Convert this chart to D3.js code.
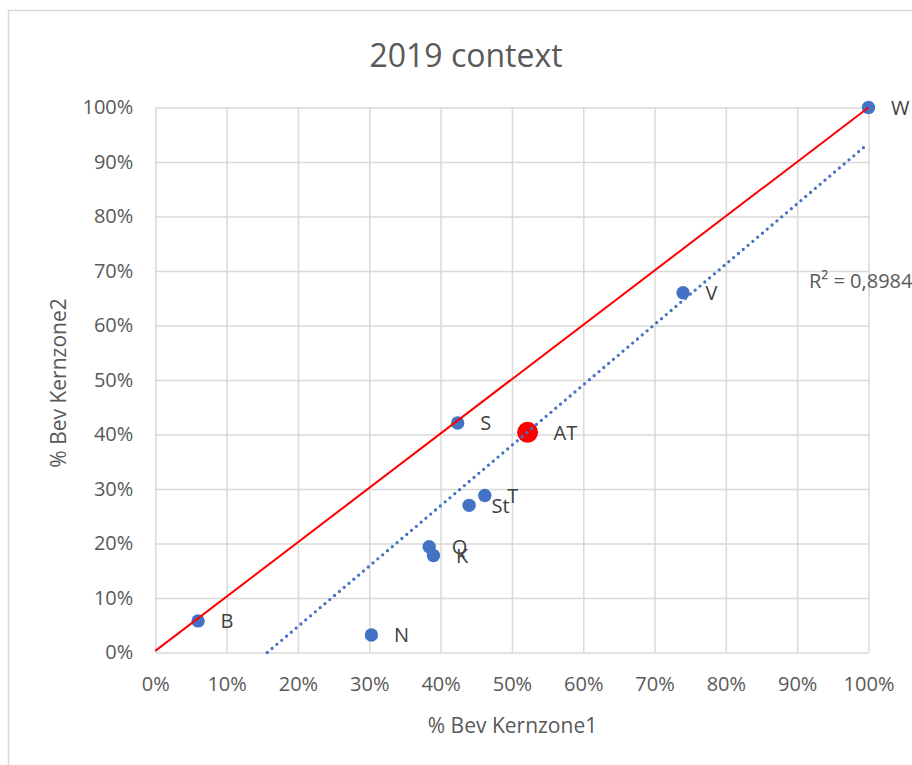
<!DOCTYPE html>
<html>
<head>
<meta charset="utf-8">
<script src="https://cdn.jsdelivr.net/npm/d3@7"></script>
<style>
  html, body { margin: 0; padding: 0; background: #fff; }
  svg { display: block; }
  text { font-family: "Open Sans", "Noto Sans", sans-serif; }
</style>
</head>
<body>
<svg id="chart" width="912" height="765"></svg>
<script>
// ---- data ----
const labels  = ["W", "V", "S", "T", "St", "Q", "K", "B", "N"];
const xValues = [1.000, 0.740, 0.424, 0.462, 0.440, 0.384, 0.390, 0.060, 0.303];
const yValues = [1.000, 0.660, 0.421, 0.288, 0.270, 0.194, 0.178, 0.058, 0.032];
const highlightLabel = ["AT"];
const highlightX = [0.522];
const highlightY = [0.404];
const refLineX = [0, 1];
const refLineY = [0.003, 1];
const trendX = [0.157, 0.998];
const trendY = [0, 0.932];
const xTicks = [0, 0.1, 0.2, 0.3, 0.4, 0.5, 0.6, 0.7, 0.8, 0.9, 1.0];
const yTicks = [0, 0.1, 0.2, 0.3, 0.4, 0.5, 0.6, 0.7, 0.8, 0.9, 1.0];
const titleText = "2019 context";
const xTitle = "% Bev Kernzone1";
const yTitle = "% Bev Kernzone2";
const r2Text = "R² = 0,8984";

// ---- layout ----
const svg = d3.select("#chart");
const pL = 155.3, pR = 868.5, pT = 107.5, pB = 652.5;
const x = d3.scaleLinear().domain([0, 1]).range([pL, pR]);
const y = d3.scaleLinear().domain([0, 1]).range([pB, pT]);
const fmt = d3.format(".0%");
const grid = "#d9d9d9", textCol = "#595959", labelCol = "#404040";

svg.append("rect").attr("x", 0).attr("y", 0).attr("width", 912).attr("height", 765).attr("fill", "#fff");
svg.append("rect").attr("x", 8.5).attr("y", 10.5).attr("width", 1000).attr("height", 1000)
  .attr("fill", "none").attr("stroke", grid).attr("stroke-width", 1.5);

// gridlines
const gx = svg.append("g").attr("transform", `translate(0,${pB})`)
  .call(d3.axisBottom(x).tickValues(xTicks).tickSize(-(pB - pT)).tickPadding(24.5).tickFormat(fmt));
const gy = svg.append("g").attr("transform", `translate(${pL},0)`)
  .call(d3.axisLeft(y).tickValues(yTicks).tickSize(-(pR - pL)).tickPadding(22).tickFormat(fmt));
[gx, gy].forEach(g => {
  g.select(".domain").remove();
  g.selectAll(".tick line").attr("stroke", grid).attr("stroke-width", 1.5);
  g.selectAll(".tick text").attr("fill", textCol).style("font-size", "20px");
});

// titles
svg.append("text").attr("x", 466).attr("y", 66.5).attr("text-anchor", "middle")
  .attr("fill", textCol).style("font-size", "32px").text(titleText);
svg.append("text").attr("x", 512.5).attr("y", 733).attr("text-anchor", "middle")
  .attr("fill", textCol).style("font-size", "21px").text(xTitle);
svg.append("text").attr("transform", "translate(66,383) rotate(-90)").attr("text-anchor", "middle")
  .attr("fill", textCol).style("font-size", "21px").text(yTitle);

// points
const pts = labels.map((l, i) => ({l, x: xValues[i], y: yValues[i]}));
svg.append("g").selectAll("circle").data(pts).join("circle")
  .attr("cx", d => x(d.x)).attr("cy", d => y(d.y)).attr("r", 6.7).attr("fill", "#4472c4");
const hi = highlightLabel.map((l, i) => ({l, x: highlightX[i], y: highlightY[i]}));
svg.append("g").selectAll("circle").data(hi).join("circle")
  .attr("cx", d => x(d.x)).attr("cy", d => y(d.y)).attr("r", 10.5).attr("fill", "#ff0000");

// lines
const line = d3.line().x(d => x(d[0])).y(d => y(d[1]));
svg.append("path").attr("d", line(refLineX.map((v, i) => [v, refLineY[i]])))
  .attr("fill", "none").attr("stroke", "#ff0000").attr("stroke-width", 2);
svg.append("path").attr("d", line(trendX.map((v, i) => [v, trendY[i]])))
  .attr("fill", "none").attr("stroke", "#4472c4").attr("stroke-width", 3.3)
  .attr("stroke-linecap", "round").attr("stroke-dasharray", "0 6.3");

// labels
svg.append("g").selectAll("text").data(pts).join("text")
  .attr("x", d => x(d.x) + 22.5).attr("y", d => y(d.y)).attr("dy", "0.36em")
  .attr("fill", labelCol).style("font-size", "20px").text(d => d.l);
svg.append("g").selectAll("text").data(hi).join("text")
  .attr("x", d => x(d.x) + 26).attr("y", d => y(d.y)).attr("dy", "0.36em")
  .attr("fill", labelCol).style("font-size", "20px").text(d => d.l);

svg.append("text").attr("x", 809).attr("y", 288).attr("fill", textCol)
  .style("font-size", "20px").text(r2Text);
</script>
</body>
</html>
